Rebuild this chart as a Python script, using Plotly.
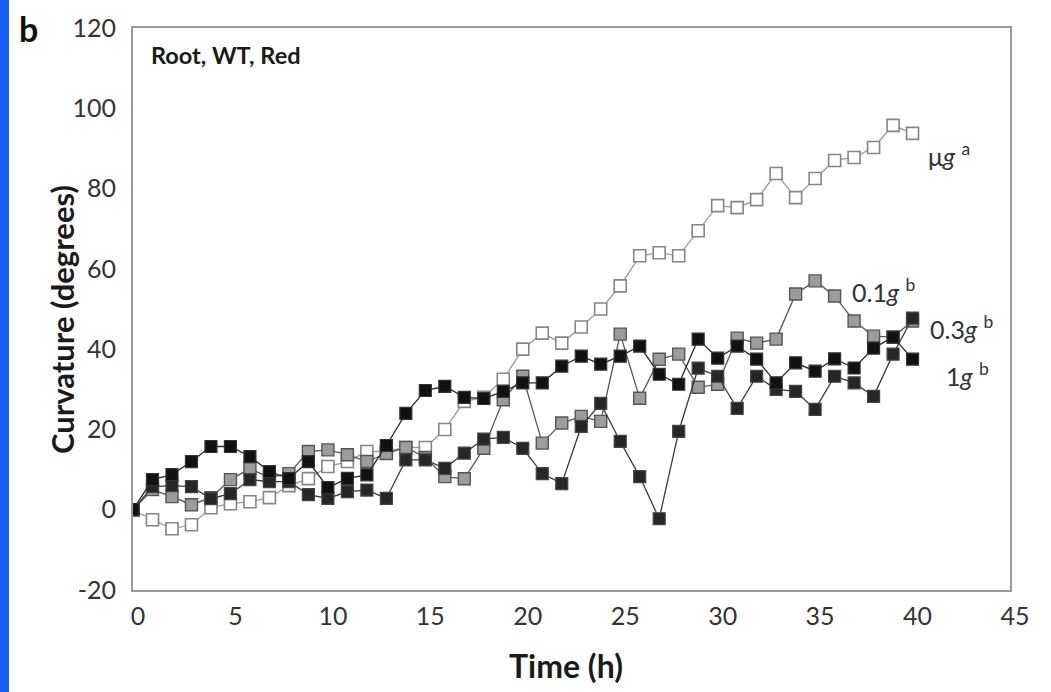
import plotly.graph_objects as go

time_h = list(range(0, 41))

ug = [0, -2.5, -4.75, -3.75, 0.5, 1.5, 2, 3, 6, 7.75,
      10.75, 12, 14.5, 14.5, 15.5, 15.5, 20, 27, 28, 32.5,
      40, 44, 41.5, 45.5, 50, 55.75, 63.25, 64, 63.25, 69.5,
      75.75, 75.25, 77.25, 83.75, 77.75, 82.5, 87, 87.75, 90.25, 95.75,
      93.75]

g01 = [0, 5, 3.25, 1.25, 3, 7.5, 10.25, 8, 9, 14.5,
       14.9, 13.7, 12, 14, 15.5, 13, 8.25, 7.7, 15.3, 27.4,
       33.25, 16.6, 21.6, 23.25, 22, 43.75, 27.75, 37.5, 38.75, 30.5,
       31.25, 42.75, 41.5, 42.5, 53.75, 57, 53.25, 47, 43.25, 43,
       47]

g03 = [0, 5.75, 6, 5.75, 2.75, 4, 7.5, 7, 7, 3.75,
       2.8, 4.5, 4.9, 2.8, 12.4, 12.4, 10.3, 14.1, 17.6, 18,
       15.3, 9, 6.5, 20.75, 26.5, 17, 8.25, -2.25, 19.5, 35.25,
       33.25, 25.25, 33.25, 30, 29.5, 25, 33.25, 31.6, 28.25, 38.75,
       47.75]

g1 = [0, 7.5, 8.75, 12, 15.75, 15.75, 13.25, 9.5, 7.75, 12,
      5.5, 7.8, 8.7, 16, 24, 29.7, 30.75, 28, 27.7, 29.5,
      31.6, 31.6, 35.75, 38.25, 36.25, 38.25, 40.75, 33.75, 31.25, 42.5,
      37.75, 40.75, 37.5, 31.6, 36.6, 34.5, 37.6, 35.3, 40.25, 43,
      37.5]

x_ticks = [0, 5, 10, 15, 20, 25, 30, 35, 40, 45]
y_ticks = [-20, 0, 20, 40, 60, 80, 100, 120]
y_tick_text = ["-20", "0", "20", "40", "60", "80", "100", "120"]

FONT = "Lato"

fig = go.Figure()

fig.add_trace(go.Scatter(
    x=time_h, y=ug, mode="lines+markers", name="μg",
    line=dict(color="#9a9a9a", width=1.3),
    marker=dict(symbol="square", size=12, color="white",
                line=dict(color="#858585", width=1.6))))

fig.add_trace(go.Scatter(
    x=time_h, y=g01, mode="lines+markers", name="0.1g",
    line=dict(color="#555555", width=1.3),
    marker=dict(symbol="square", size=12, color="#9c9c9c",
                line=dict(color="#555555", width=1.4))))

fig.add_trace(go.Scatter(
    x=time_h, y=g03, mode="lines+markers", name="0.3g",
    line=dict(color="#3a3a3a", width=1.3),
    marker=dict(symbol="square", size=12, color="#262626",
                line=dict(color="#444444", width=1.2))))

fig.add_trace(go.Scatter(
    x=time_h, y=g1, mode="lines+markers", name="1g",
    line=dict(color="#2a2a2a", width=1.3),
    marker=dict(symbol="square", size=12, color="#111111",
                line=dict(color="#333333", width=1.2))))

ann_font = dict(family=FONT, size=25, color="#333333")
annotations = [
    dict(x=40.7, y=88.4, xref="x", yref="y", text="μ<i>g</i> <sup>a</sup>",
         showarrow=False, xanchor="left", yanchor="middle", font=ann_font),
    dict(x=36.8, y=54.7, xref="x", yref="y", text="0.1<i>g</i> <sup>b</sup>",
         showarrow=False, xanchor="left", yanchor="middle", font=ann_font),
    dict(x=40.8, y=45.3, xref="x", yref="y", text="0.3<i>g</i> <sup>b</sup>",
         showarrow=False, xanchor="left", yanchor="middle", font=ann_font),
    dict(x=41.6, y=33.6, xref="x", yref="y", text="1<i>g</i> <sup>b</sup>",
         showarrow=False, xanchor="left", yanchor="middle", font=ann_font),
    dict(x=0.018, y=0.952, xref="paper", yref="paper", text="<b>Root, WT, Red</b>",
         showarrow=False, xanchor="left", yanchor="middle",
         font=dict(family=FONT, size=23.5, color="#1a1a1a")),
    dict(x=-0.132, y=1.0, xref="paper", yref="paper", text="<b>b</b>",
         showarrow=False, xanchor="left", yanchor="middle",
         font=dict(family=FONT, size=34, color="#111111")),
    dict(x=(62 - 133) / 877, y=(590 - 320) / 562, xref="paper", yref="paper",
         text="<b>Curvature (degrees)</b>", textangle=-90,
         showarrow=False, xanchor="center", yanchor="middle",
         font=dict(family=FONT, size=31, color="#1a1a1a")),
    dict(x=(566 - 133) / 877, y=(590 - 665) / 562, xref="paper", yref="paper",
         text="<b>Time (h)</b>",
         showarrow=False, xanchor="center", yanchor="middle",
         font=dict(family=FONT, size=32, color="#1a1a1a")),
]

shapes = [
    dict(type="rect", xref="paper", yref="paper",
         x0=-133 / 877, x1=(9 - 133) / 877, y0=-102 / 562, y1=590 / 562,
         fillcolor="rgb(25,95,245)", line=dict(width=0), layer="above"),
]

fig.update_layout(
    width=1051, height=692,
    margin=dict(l=133, r=41, t=28, b=102),
    paper_bgcolor="white", plot_bgcolor="white",
    showlegend=False,
    annotations=annotations,
    shapes=shapes,
    xaxis=dict(range=[0, 45], tickvals=x_ticks, showgrid=False, zeroline=False,
               showline=True, mirror=True, linecolor="#999999", linewidth=2,
               ticks="", ticklabelstandoff=3, ticklabelshift=5,
               tickfont=dict(family=FONT, size=25, color="#333333")),
    yaxis=dict(range=[-20, 120], tickvals=y_ticks, ticktext=y_tick_text,
               showgrid=False, zeroline=False,
               showline=True, mirror=True, linecolor="#999999", linewidth=2,
               ticks="", ticklabelstandoff=10,
               tickfont=dict(family=FONT, size=25, color="#333333")),
)

fig.write_html("out.html", config={"displayModeBar": False},
               post_script="document.body.style.margin='0px';")
